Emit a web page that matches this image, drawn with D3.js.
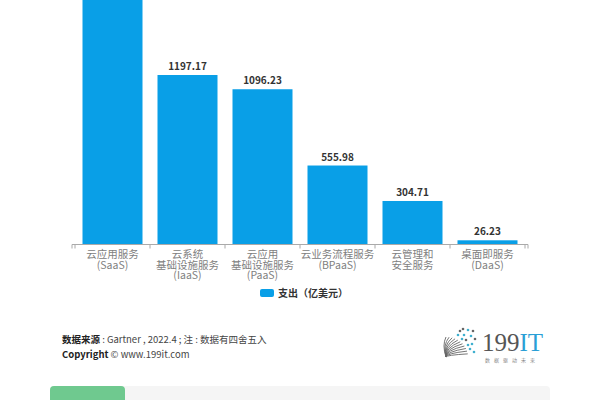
<!DOCTYPE html>
<html><head><meta charset="utf-8">
<script src="https://cdn.jsdelivr.net/npm/d3@7/dist/d3.min.js"></script>
<style>body{margin:0;background:#fff;}svg{display:block;font-family:"Noto Sans CJK SC","Noto Sans",sans-serif;}</style>
</head><body>
<svg id="c" width="600" height="400"></svg>
<script>
const categories = [["云应用服务","(SaaS)"],["云系统","基础设施服务","(IaaS)"],["云应用","基础设施服务","(PaaS)"],["云业务流程服务","(BPaaS)"],["云管理和","安全服务"],["桌面即服务","(DaaS)"]];
const values = [1766.22, 1197.17, 1096.23, 555.98, 304.71, 26.23];
const legendLabel = "支出（亿美元）";
const sourceBold = "数据来源";
const sourceText = " : Gartner , 2022.4 ; 注 : 数据有四舍五入";

const svg = d3.select("#c");
const blue = "#099fe7";
const x = d3.scaleBand().domain(d3.range(values.length)).range([75,525]).paddingInner(0.2).paddingOuter(0.1);
const y = d3.scaleLinear().domain([0,1197.17]).range([244,75]);

svg.selectAll("rect.bar").data(values).enter().append("rect")
  .attr("x",(d,i)=>x(i)).attr("width",x.bandwidth())
  .attr("y",d=>y(d)).attr("height",d=>244-y(d)).attr("fill",blue);

// value labels (the one above the canvas top is not visible in the reference)
svg.selectAll("text.val").data(values.map((v,i)=>({v,i})).filter(d=>y(d.v)-5>10)).enter().append("text")
  .attr("x",d=>x(d.i)+x.bandwidth()/2).attr("y",d=>y(d.v)-5)
  .attr("text-anchor","middle").attr("font-size",10).attr("font-weight","bold").attr("fill","#333")
  .text(d=>d.v.toFixed(2));

const g = svg.append("g").attr("transform","translate(0,244.5)");
g.append("path").attr("stroke","#aaa").attr("fill","none").attr("d","M72,4V0H528V4");
const edges = d3.range(values.length+1).map(i=> i<values.length ? x(i)-x.step()*x.paddingInner()/2 : x(i-1)+x.bandwidth()+x.step()*x.paddingInner()/2);
g.selectAll("line.t").data(edges).enter().append("line")
  .attr("x1",d=>d).attr("x2",d=>d).attr("y1",0).attr("y2",4).attr("stroke","#aaa");

categories.forEach((lines,i)=>{
  lines.forEach((l,j)=>svg.append("text").attr("text-anchor","middle").attr("font-size",10.5).attr("fill","#808080")
    .attr("x",x(i)+x.bandwidth()/2).attr("y",258+j*10.5).text(l));
});

svg.append("rect").attr("x",260).attr("y",289).attr("width",14).attr("height",8).attr("rx",2).attr("fill",blue);
svg.append("text").attr("x",278).attr("y",297).attr("font-size",10).attr("font-weight","bold").attr("fill","#333").text(legendLabel);

const s = svg.append("text").attr("x",62).attr("y",343).attr("font-size",9.5).attr("fill","#444");
s.append("tspan").attr("font-weight","bold").attr("fill","#222").text(sourceBold);
s.append("tspan").text(sourceText);
const c = svg.append("text").attr("x",62).attr("y",358).attr("font-size",9.5).attr("fill","#444");
c.append("tspan").attr("font-weight","bold").attr("fill","#222").text("Copyright");
c.append("tspan").text(" © www.199it.com");

// logo
const lg = svg.append("g").attr("transform","translate(446,357)");
for(let k=0;k<11;k++){
  const a = Math.PI*(0.05+k*0.045);
  const ex = Math.cos(a)*22, ey = -Math.sin(a)*20;
  lg.append("path").attr("d",`M0,0 Q${ex*0.2-4},${ey*0.6} ${ex},${ey}`)
    .attr("fill","none").attr("stroke","#666").attr("stroke-width",0.9);
}
const dots=[[14,-26],[18,-22],[22,-27],[20,-17],[25,-21],[26,-13],[29,-18],[24,-8],[28,-5],[17,-28],[12,-22],[22,-12],[27,-26],[16,-18]];
dots.forEach((d,i)=>lg.append("circle").attr("cx",d[0]).attr("cy",d[1]).attr("r",1.3).attr("fill",i%3?"#3fb0cf":"#666"));
const lt = svg.append("text").attr("x",482).attr("y",351).attr("font-size",25).attr("font-family","'Liberation Serif',serif");
lt.append("tspan").attr("fill","#555").text("199");
lt.append("tspan").attr("fill","#2a9fd6").text("IT");
svg.append("text").attr("x",512).attr("y",362).attr("text-anchor","middle").attr("font-size",5).attr("fill","#888").attr("letter-spacing",4).text("数据驱动未来");

svg.append("rect").attr("x",50).attr("y",386).attr("width",500).attr("height",20).attr("rx",4).attr("fill","#f5f5f5");
svg.append("rect").attr("x",50).attr("y",386).attr("width",75).attr("height",20).attr("rx",4).attr("fill","#6fc98f");
</script>
</body></html>
